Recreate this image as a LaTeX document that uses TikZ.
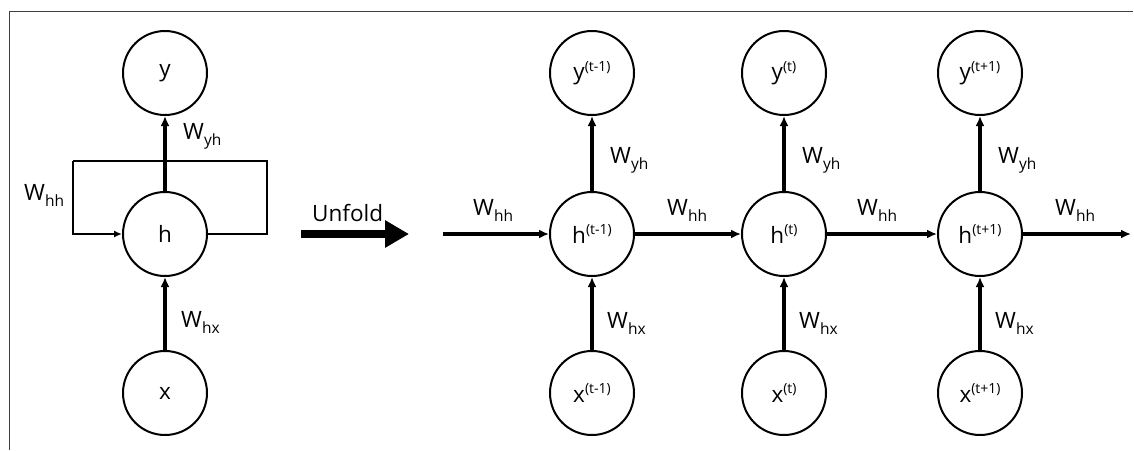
\documentclass[tikz,border=0pt]{standalone}
\usepackage{fontspec}
\setmainfont{Open Sans}
\usetikzlibrary{arrows.meta}
\newcommand\subW[1]{W\raisebox{-6pt}{\fontsize{15.5}{15.5}\selectfont #1}}
\newcommand\supT[2]{#1\raisebox{8.5pt}{\fontsize{14}{14}\selectfont #2}}
\tikzset{
  unit/.style={draw, circle, line width=2pt, minimum size=84pt, inner sep=0pt},
  thickarrow/.style={line width=3.3pt, -{Latex[length=10pt,width=9pt]}},
  loopline/.style={line width=1.7pt},
  looparrow/.style={line width=1.7pt, -{Latex[length=8pt,width=7pt]}},
  lab/.style={anchor=base west, inner sep=0pt},
  frame/.style={line width=1pt, draw=black!75},
}
\begin{document}
\begin{tikzpicture}[x=1pt, y=-1pt, font=\fontsize{22.5}{26}\selectfont]
\useasboundingbox (0,0) rectangle (1134,450);
% frame
\coordinate (f1) at (9,450);
\coordinate (f2) at (9,11);
\coordinate (f3) at (1133,11);
\draw[frame] (f1) -- (f2) -- (f3);

% folded RNN
\node[unit] (y) at (165,73) {y};
\node[unit] (h) at (165,234) {h};
\node[unit] (x) at (165,393) {x};
\coordinate (lr) at (267,161);
\coordinate (ll) at (73,161);
\draw[loopline] (h.east) -| (lr) -- (ll);
\draw[looparrow] (ll) |- (h.west);
\draw[thickarrow] (h.north) -- (y.south);
\draw[thickarrow] (x.north) -- (h.south);
\node[lab] (lyh) at (183,139) {\subW{yh}};
\node[lab] (lhh) at (24,200) {\subW{hh}};
\node[lab] (lhx) at (181,327) {\subW{hx}};

% unfold arrow
\coordinate (ua) at (301,234);
\coordinate (ub) at (409,234);
\draw[line width=8pt, -{Triangle[length=24pt,width=26pt]}] (ua) -- (ub);
\node[lab] (unfold) at (312,221) {Unfold};

% unrolled
\node[unit] (y1) at (592,73) {\supT{y}{(t-1)}};
\node[unit] (h1) at (592,234) {\supT{h}{(t-1)}};
\node[unit] (x1) at (592,393) {\supT{x}{(t-1)}};
\node[unit] (y2) at (784,73) {\supT{y}{(t)}};
\node[unit] (h2) at (784,234) {\supT{h}{(t)}};
\node[unit] (x2) at (784,393) {\supT{x}{(t)}};
\node[unit] (y3) at (980,73) {\supT{y}{(t+1)}};
\node[unit] (h3) at (980,234) {\supT{h}{(t+1)}};
\node[unit] (x3) at (980,393) {\supT{x}{(t+1)}};

\coordinate (in) at (443,234);
\coordinate (out) at (1131,234);
\draw[thickarrow] (in) -- (h1.west);
\draw[thickarrow] (h1.east) -- (h2.west);
\draw[thickarrow] (h2.east) -- (h3.west);
\draw[thickarrow] (h3.east) -- (out);
\draw[thickarrow] (h1.north) -- (y1.south);
\draw[thickarrow] (h2.north) -- (y2.south);
\draw[thickarrow] (h3.north) -- (y3.south);
\draw[thickarrow] (x1.north) -- (h1.south);
\draw[thickarrow] (x2.north) -- (h2.south);
\draw[thickarrow] (x3.north) -- (h3.south);

\node[lab] (hh0) at (473,215) {\subW{hh}};
\node[lab] (hh1) at (667,215) {\subW{hh}};
\node[lab] (hh2) at (857,215) {\subW{hh}};
\node[lab] (hh3) at (1055,215) {\subW{hh}};
\node[lab] (yh1) at (610,163) {\subW{yh}};
\node[lab] (yh2) at (802,163) {\subW{yh}};
\node[lab] (yh3) at (998,163) {\subW{yh}};
\node[lab] (hx1) at (607,328) {\subW{hx}};
\node[lab] (hx2) at (799,328) {\subW{hx}};
\node[lab] (hx3) at (995,328) {\subW{hx}};
\end{tikzpicture}
\end{document}
